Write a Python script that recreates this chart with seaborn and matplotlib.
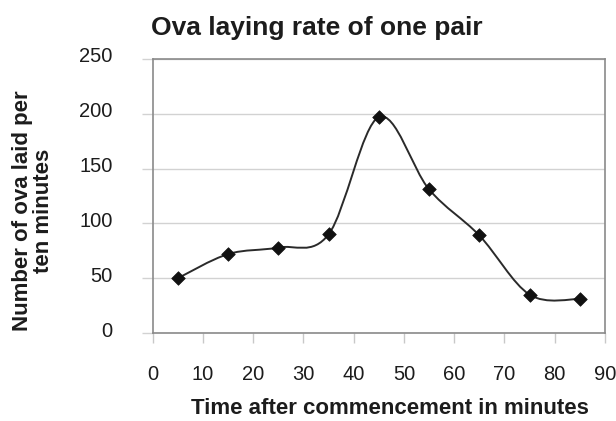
import numpy as np
import pandas as pd
import matplotlib
matplotlib.use("Agg")
import matplotlib.pyplot as plt
import matplotlib.transforms as mtransforms
from matplotlib.path import Path
from matplotlib.patches import PathPatch
import seaborn as sns

# Sampling times (minutes) and ova counts per ten-minute interval
minutes = [5, 15, 25, 35, 45, 55, 65, 75, 85]
ova_laid = [50, 72, 78, 90, 197, 131, 89, 35, 31]

title = "Ova laying rate of one pair"
x_label = "Time after commencement in minutes"
y_label = "Number of ova laid per\nten minutes"
x_ticks = [0, 10, 20, 30, 40, 50, 60, 70, 80, 90]
y_ticks = [0, 50, 100, 150, 200, 250]

df = pd.DataFrame({"minutes": minutes, "ova": ova_laid})

sns.set_theme(style="white")
plt.rcParams["font.family"] = ["Liberation Sans", "DejaVu Sans"]

fig = plt.figure(figsize=(6.16, 4.21), dpi=100)
ax = fig.add_axes([0.248, 0.209, 0.734, 0.651])

text_color = "#1c1c1c"

# Smoothed connecting curve: cubic Bezier segments through the data points
pts = np.column_stack([df["minutes"].to_numpy(float), df["ova"].to_numpy(float)])
verts = [tuple(pts[0])]
codes = [Path.MOVETO]
n = len(pts)
for i in range(n - 1):
    p0 = pts[i - 1] if i > 0 else pts[i]
    p1 = pts[i]
    p2 = pts[i + 1]
    p3 = pts[i + 2] if i + 2 < n else pts[i + 1]
    c1 = p1 + (p2 - p0) / 6.0
    c2 = p2 - (p3 - p1) / 6.0
    verts += [tuple(c1), tuple(c2), tuple(p2)]
    codes += [Path.CURVE4, Path.CURVE4, Path.CURVE4]
curve = PathPatch(Path(verts, codes), facecolor="none", edgecolor="#2a2a2a",
                  linewidth=1.4, zorder=3)
ax.add_patch(curve)

sns.scatterplot(data=df, x="minutes", y="ova", marker="D", s=48,
                color="#111111", edgecolor="#111111", linewidth=0.5,
                ax=ax, zorder=4, legend=False)

ax.set_xlim(0, 90)
ax.set_ylim(0, 250)
ax.set_xticks(x_ticks)
ax.set_yticks(y_ticks)
ax.set_xticklabels([str(t) for t in x_ticks], fontsize=14.5, color=text_color)
ax.set_yticklabels([str(t) for t in y_ticks], fontsize=14.5, color=text_color)

ax.yaxis.grid(True, color="#d2d2d2", linewidth=1.0)
ax.xaxis.grid(False)
ax.set_axisbelow(True)

for side in ["left", "right", "top", "bottom"]:
    ax.spines[side].set_visible(True)
    ax.spines[side].set_color("#8a8a8a")
    ax.spines[side].set_linewidth(1.2)

ax.tick_params(axis="x", which="major", direction="out", length=7, width=1.0,
               color="#c8c8c8", pad=16, bottom=True)
ax.tick_params(axis="y", which="major", direction="out", length=8, width=1.0,
               color="#d2d2d2", pad=21, left=True)

# Lift the value labels slightly above their gridlines
lift = mtransforms.ScaledTranslation(0, 4 / 100, fig.dpi_scale_trans)
for lbl in ax.get_yticklabels():
    lbl.set_transform(lbl.get_transform() + lift)

ax.set_xlabel(x_label, fontsize=16, fontweight="bold", color=text_color)
ax.set_ylabel(y_label, fontsize=16, fontweight="bold", color=text_color,
              linespacing=0.95)
fig.text(0.515, 1 - 28 / 421, title, ha="center", va="center", fontsize=19,
         fontweight="bold", color=text_color)

# Place the axis labels in figure coordinates
ax.xaxis.set_label_coords(390 / 616, 1 - 408 / 421, transform=fig.transFigure)
ax.xaxis.label.set_va("center")
ax.yaxis.set_label_coords(33 / 616, 1 - 211 / 421, transform=fig.transFigure)
ax.yaxis.label.set_va("center")

fig.savefig("out.png", dpi=100, facecolor="white")
